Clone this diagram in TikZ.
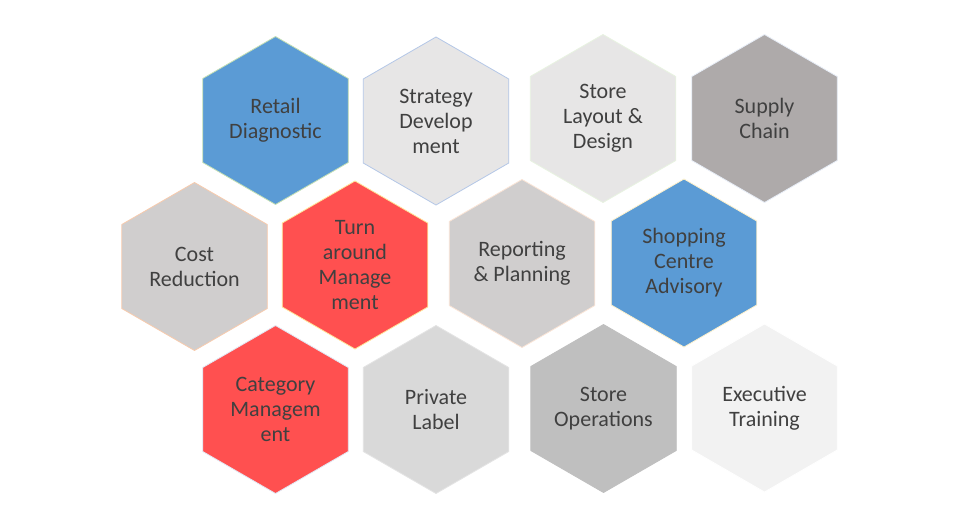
\documentclass[tikz,border=0pt]{standalone}
\usepackage{fontspec}
\setmainfont{Carlito}
\usetikzlibrary{shapes.geometric}
\definecolor{hexblue}{HTML}{5B9BD5}
\definecolor{hexred}{HTML}{FF5050}
\definecolor{hexgrayA}{HTML}{E7E6E6}
\definecolor{hexgrayB}{HTML}{AEAAAA}
\definecolor{hexgrayC}{HTML}{D0CECE}
\definecolor{hexgrayD}{HTML}{D9D9D9}
\definecolor{hexgrayE}{HTML}{BFBFBF}
\definecolor{hexgrayF}{HTML}{F2F2F2}
\definecolor{hextext}{HTML}{404040}
\definecolor{lineblue}{HTML}{B4C7E7}
\definecolor{linegreen}{HTML}{C5E0B4}
\definecolor{linepeach}{HTML}{F8CBAD}
\definecolor{lineyellow}{HTML}{FFE699}
\tikzset{hex/.style={regular polygon, regular polygon sides=6, shape border rotate=30,
		minimum size=168pt, inner sep=0pt, line width=0.8pt, align=center, text=hextext,
		font=\fontsize{22}{25}\selectfont}}
\begin{document}
\begin{tikzpicture}[x=1pt, y=-1pt, line join=round]
		\useasboundingbox[fill=white] (0,0) rectangle (958,528);
		\coordinate (R1) at (275.5,120.5);
		\coordinate (R2) at (436,121);
		\coordinate (R3) at (603,118.5);
		\coordinate (R4) at (764.5,118.5);
		\coordinate (M1) at (194.5,266.5);
		\coordinate (M2) at (355,265);
		\coordinate (M3) at (522,263.5);
		\coordinate (M4) at (684,263);
		\coordinate (B1) at (275.5,409.5);
		\coordinate (B2) at (436,409.5);
		\coordinate (B3) at (603.5,408.5);
		\coordinate (B4) at (764.5,408);
		\node[hex, fill=hexblue, draw=linegreen] (retail) at (R1) {Retail\\Diagnostic};
		\node[hex, fill=hexgrayA, draw=lineblue] (strategy) at (R2) {Strategy\\Develop\\ment};
		\node[hex, fill=hexgrayA, draw=linegreen!40] (layout) at (R3) {Store\\Layout \&\\Design};
		\node[hex, fill=hexgrayB, draw=lineblue!30] (supply) at (R4) {Supply\\Chain};
		\node[hex, fill=hexgrayC, draw=linepeach] (cost) at (M1) {Cost\\Reduction};
		\node[hex, fill=hexred, draw=lineyellow] (turnaround) at (M2) {Turn\\around\\Manage\\ment};
		\node[hex, fill=hexgrayC, draw=linepeach!50] (reporting) at (M3) {Reporting\\\& Planning};
		\node[hex, fill=hexblue, draw=lineyellow!50] (shopping) at (M4) {Shopping\\Centre\\Advisory};
		\node[hex, fill=hexred, draw=lineblue!40] (category) at (B1) {Category\\Managem\\ent};
		\node[hex, fill=hexgrayD, draw=hexgrayD!70] (private) at (B2) {Private\\Label};
		\node[hex, fill=hexgrayE, draw=hexgrayE] (operations) at (B3) {Store\\Operations};
		\node[hex, fill=hexgrayF, draw=white] (executive) at (B4) {Executive\\Training};
		\end{tikzpicture}
\end{document}
